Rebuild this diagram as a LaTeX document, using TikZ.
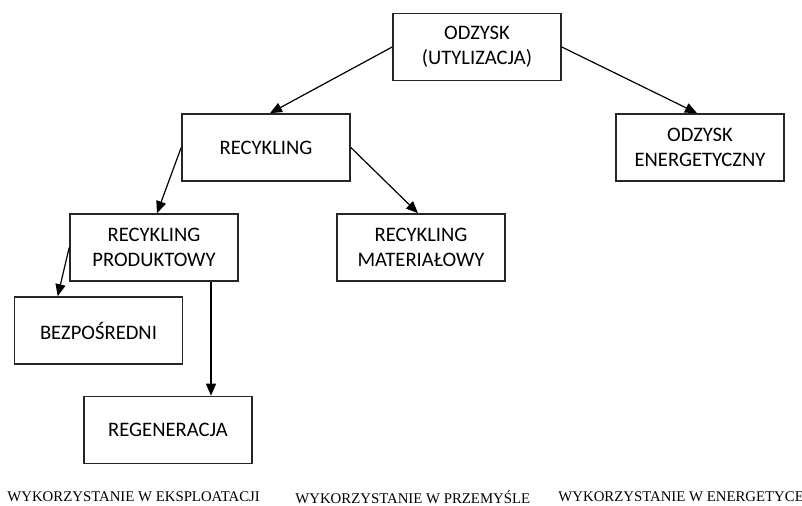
\documentclass[tikz,border=0pt]{standalone}
\usepackage{fontspec}
\setmainfont{Carlito}
\newfontfamily\lblfont{Liberation Serif}
\usetikzlibrary{arrows.meta, calc}

\begin{document}
\begin{tikzpicture}[x=0.5pt, y=-0.5pt,
            box/.style={rectangle, draw=black!85, line width=0.8pt, minimum width=84pt, minimum height=33.5pt, inner sep=0pt, align=center, font=\fontsize{10.3}{12.5}\selectfont},
            arr/.style={draw=black, line width=0.6pt, -{Triangle[length=6pt, width=5pt]}},
            lbl/.style={anchor=west, inner sep=0pt, font=\lblfont\fontsize{7.4}{8}\selectfont}]
            \useasboundingbox (0,0) rectangle (802,506);
            \node[box] (odz)  at (477,47)    {ODZYSK\\(UTYLIZACJA)};
            \node[box] (rec)  at (266,147.5) {RECYKLING};
            \node[box] (ene)  at (700,147.5) {ODZYSK\\ENERGETYCZNY};
            \node[box] (prod) at (154,247.5) {RECYKLING\\PRODUKTOWY};
            \node[box] (mat)  at (421,247.5) {RECYKLING\\MATERIAŁOWY};
            \node[box] (bez)  at (98.5,330.5) {BEZPOŚREDNI};
            \node[box] (reg)  at (168,430)   {REGENERACJA};
            \draw[arr] (odz.west) -- ([xshift=2pt]rec.north);
            \draw[arr] (odz.east) -- ([xshift=-1.5pt]ene.north);
            \draw[arr] (rec.west) -- ([xshift=1.5pt]prod.north);
            \draw[arr] (rec.east) -- ([xshift=-1.5pt]mat.north);
            \draw[arr] (prod.west) -- ([xshift=22pt]bez.north west);
            \draw[arr] ([xshift=28.5pt]prod.south) -- ([xshift=21.5pt]reg.north);
            % podpisy na dole
            \node[lbl] (ekspl) at (7,497)   {WYKORZYSTANIE W EKSPLOATACJI};
            \node[lbl] (przem) at (295,497) {WYKORZYSTANIE W PRZEMYŚLE};
            \node[lbl] (energ) at (558,497) {WYKORZYSTANIE W ENERGETYCE};
        \end{tikzpicture}
\end{document}
